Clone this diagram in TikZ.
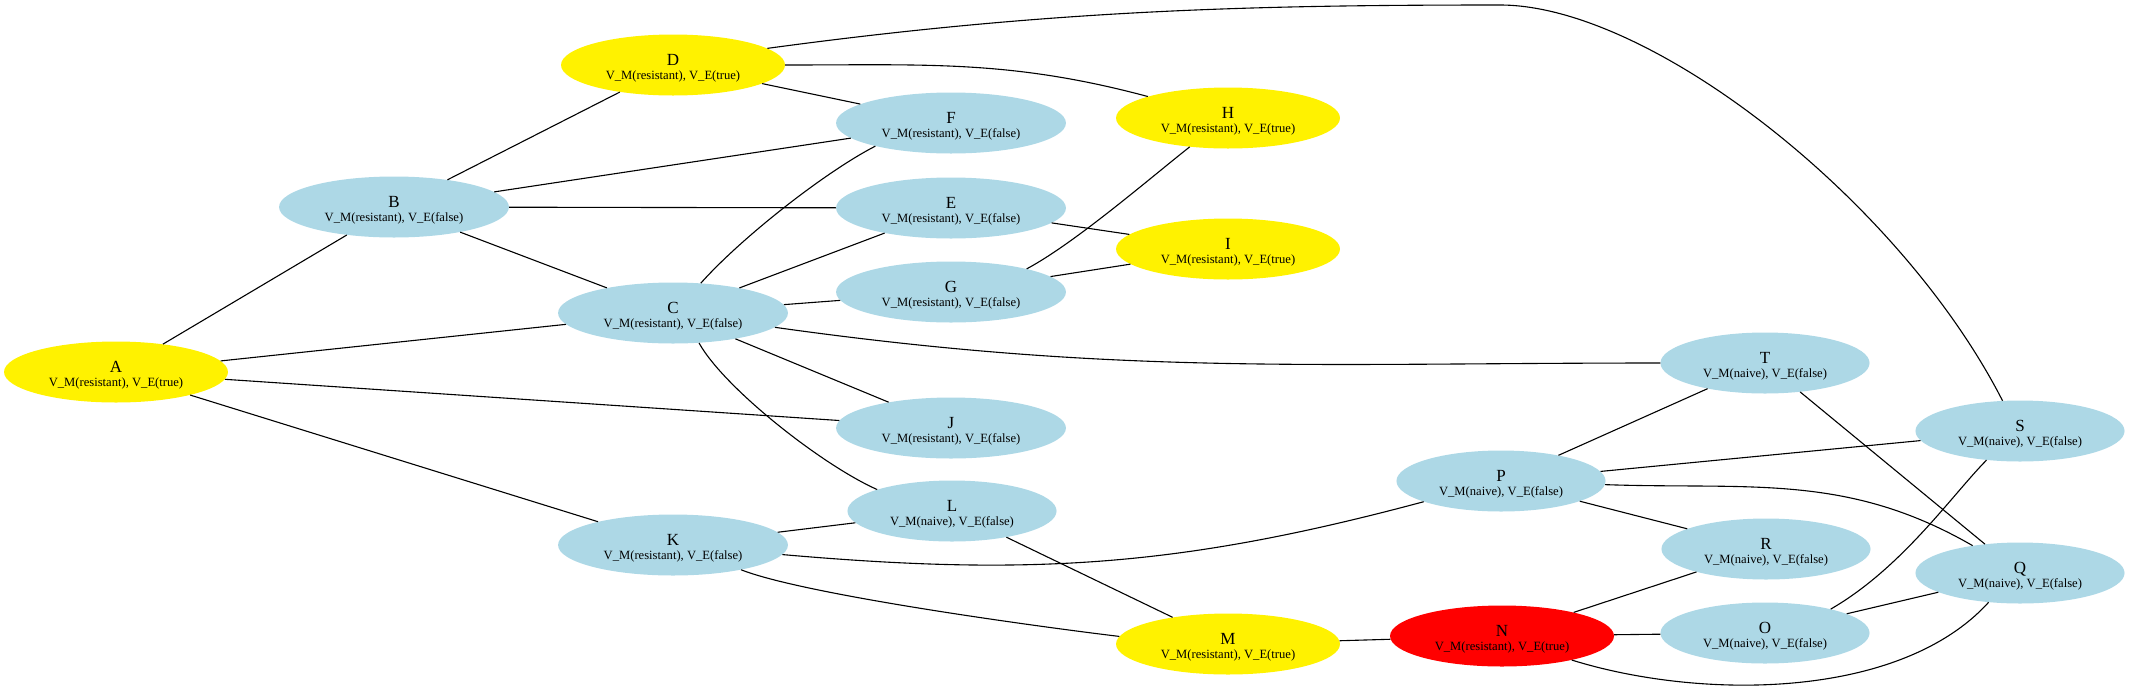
\documentclass[tikz,border=0pt]{standalone}
\usepackage{fontspec}
\setmainfont{Liberation Serif}
\usetikzlibrary{shapes.geometric}
\definecolor{lightblue}{RGB}{173,216,230}
\newcommand{\vlab}[3]{\rule{0pt}{16.8pt}#1\\{\fontsize{12.6}{14}\selectfont V\_M(#2), V\_E(#3)}}
\tikzset{
  vnode/.style={ellipse,inner xsep=12pt,inner ysep=1pt,minimum height=61pt,
    align=center,font=\fontsize{17}{14}\selectfont},
  bluenode/.style={vnode,fill=lightblue},
  yellownode/.style={vnode,fill=yellow},
  rednode/.style={vnode,fill=red},
  link/.style={draw=black,line width=1.1pt}
}
\begin{document}
\begin{tikzpicture}[x=1pt,y=-1pt]
\useasboundingbox (0,0) rectangle (2130,697);
% nodes
\node[yellownode] (A) at (116,372) {\vlab{A}{resistant}{true}};
\node[bluenode] (B) at (394,207) {\vlab{B}{resistant}{false}};
\node[bluenode] (C) at (673,313) {\vlab{C}{resistant}{false}};
\node[yellownode] (D) at (673,65) {\vlab{D}{resistant}{true}};
\node[bluenode] (E) at (951,208) {\vlab{E}{resistant}{false}};
\node[bluenode] (F) at (951,123) {\vlab{F}{resistant}{false}};
\node[bluenode] (G) at (951,292) {\vlab{G}{resistant}{false}};
\node[yellownode] (H) at (1228,118) {\vlab{H}{resistant}{true}};
\node[yellownode] (I) at (1228,249) {\vlab{I}{resistant}{true}};
\node[bluenode] (J) at (951,428) {\vlab{J}{resistant}{false}};
\node[bluenode] (K) at (673,545) {\vlab{K}{resistant}{false}};
\node[bluenode] (L) at (952,511) {\vlab{L}{naive}{false}};
\node[yellownode] (M) at (1228,644) {\vlab{M}{resistant}{true}};
\node[rednode] (N) at (1502,636) {\vlab{N}{resistant}{true}};
\node[bluenode] (O) at (1765,633) {\vlab{O}{naive}{false}};
\node[bluenode] (P) at (1501,481) {\vlab{P}{naive}{false}};
\node[bluenode] (Q) at (2020,573) {\vlab{Q}{naive}{false}};
\node[bluenode] (R) at (1766,549) {\vlab{R}{naive}{false}};
\node[bluenode] (S) at (2020,431) {\vlab{S}{naive}{false}};
\node[bluenode] (T) at (1765,363) {\vlab{T}{naive}{false}};
\coordinate (dstop) at (1500,5);
% straight edges
\draw[link] (A) -- (B);
\draw[link] (A) -- (C);
\draw[link] (A) -- (J);
\draw[link] (A) -- (K);
\draw[link] (B) -- (D);
\draw[link] (B) -- (F);
\draw[link] (B) -- (E);
\draw[link] (B) -- (C);
\draw[link] (D) -- (F);
\draw[link] (C) -- (E);
\draw[link] (C) -- (G);
\draw[link] (C) -- (J);
\draw[link] (E) -- (I);
\draw[link] (G) -- (I);
\draw[link] (K) -- (L);
\draw[link] (L) -- (M);
\draw[link] (M) -- (N);
\draw[link] (N) -- (R);
\draw[link] (N) -- (O);
\draw[link] (P) -- (T);
\draw[link] (P) -- (S);
\draw[link] (P) -- (R);
\draw[link] (T) -- (Q);
\draw[link] (O) -- (Q);
% curved edges
\draw[link] (D) to[out=0,in=165] (H);
\draw[link] (C.47) .. controls (741,238) and (825,172) .. (F.197);
\draw[link] (C.-49) .. controls (724,388) and (822,465) .. (L.164);
\draw[link] (C) to[out=-8,in=180] (T);
\draw[link] (G.17) .. controls (1075,243) and (1149,179) .. (H.217);
\draw[link] (K) to[out=-5,in=195] (P);
\draw[link] (K.-20) .. controls (808,596) and (1057,629) .. (M.176);
\draw[link] (P) to[out=-2,in=150] (Q);
\draw[link] (O.20) .. controls (1902,568) and (1952,495) .. (S.221);
\draw[link] (N.-19) .. controls (1700,700) and (1900,700) .. (Q.223);
\draw[link] (D.10) .. controls (1050,10) and (1250,5) .. (dstop)
  .. controls (1650,5) and (1900,200) .. (S.120);
\end{tikzpicture}
\end{document}
